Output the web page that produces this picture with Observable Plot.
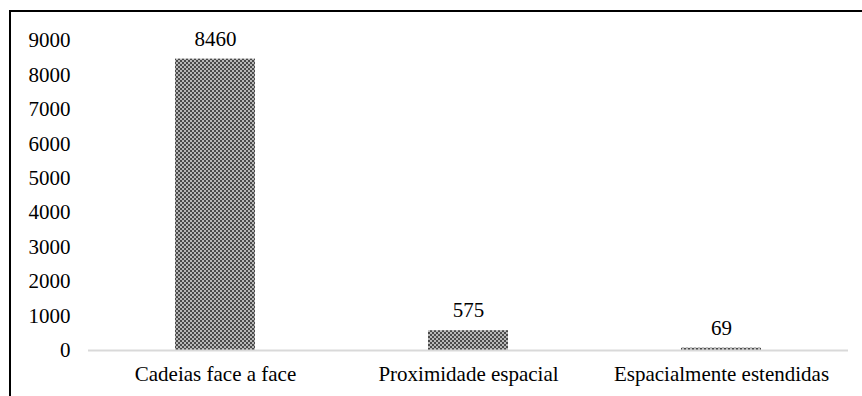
<!DOCTYPE html>
<html>
<head>
<meta charset="utf-8">
<script src="https://cdn.jsdelivr.net/npm/d3@7"></script>
<script src="https://cdn.jsdelivr.net/npm/@observablehq/plot@0.6"></script>
<style>
  html, body { margin: 0; padding: 0; background: #fff; }
  #wrap { position: relative; width: 862px; height: 396px; overflow: hidden; }
  #frame { position: absolute; left: 9px; top: 10px; width: 900px; height: 500px;
           border-left: 2px solid #000; border-top: 2px solid #000; box-sizing: border-box; }
  #chart { position: absolute; left: 0; top: 0; }
  #chart svg, #chart svg text { font-family: "Liberation Serif", "Times New Roman", serif !important; font-size: 21px !important; }
</style>
</head>
<body>
<div id="wrap"><div id="frame"></div><div id="chart"></div></div>
<script>
const categories = ["Cadeias face a face", "Proximidade espacial", "Espacialmente estendidas"];
const values = [8460, 575, 69];
const yTicks = [0, 1000, 2000, 3000, 4000, 5000, 6000, 7000, 8000, 9000];

const data = categories.map((c, i) => ({category: c, value: values[i]}));

const chart = Plot.plot({
  width: 862,
  height: 396,
  marginLeft: 88,
  marginRight: 14,
  marginTop: 40,
  marginBottom: 46,
  style: {color: "#000", background: "transparent"},
  x: {domain: categories, paddingInner: 0.684, paddingOuter: 0.342, label: null},
  y: {domain: [0, 9000], label: null},
  marks: [
    Plot.axisY({ticks: yTicks, tickSize: 0, tickPadding: 18, tickFormat: d => String(d), label: null}),
    Plot.axisX({tickSize: 0, tickPadding: 16, label: null}),
    Plot.barY(data, {x: "category", y: "value", fill: "url(#checker)"}),
    Plot.ruleY([0], {stroke: "#d9d9d9", strokeWidth: 2}),
    Plot.text(data, {x: "category", y: "value", text: d => String(d.value), dy: -20, fill: "#000"})
  ]
});

const ns = "http://www.w3.org/2000/svg";
const defs = document.createElementNS(ns, "defs");
const pat = document.createElementNS(ns, "pattern");
pat.setAttribute("id", "checker");
pat.setAttribute("patternUnits", "userSpaceOnUse");
pat.setAttribute("width", "4");
pat.setAttribute("height", "4");
const bg = document.createElementNS(ns, "rect");
bg.setAttribute("width", "4"); bg.setAttribute("height", "4"); bg.setAttribute("fill", "#b8b8b8");
pat.appendChild(bg);
for (const [x, y] of [[0, 0], [2, 2]]) {
  const r = document.createElementNS(ns, "rect");
  r.setAttribute("x", x); r.setAttribute("y", y);
  r.setAttribute("width", "2"); r.setAttribute("height", "2");
  r.setAttribute("fill", "#4a4a4a");
  pat.appendChild(r);
}
defs.appendChild(pat);
chart.insertBefore(defs, chart.firstChild);

document.getElementById("chart").appendChild(chart);
</script>
</body>
</html>
